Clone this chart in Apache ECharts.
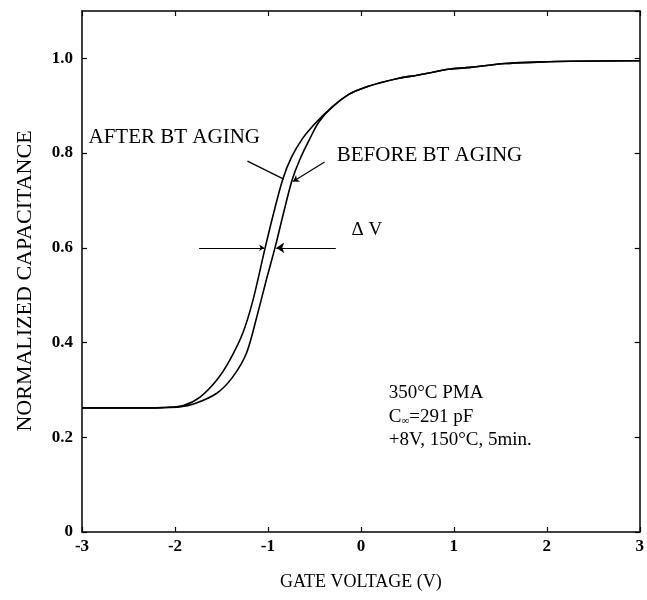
<!DOCTYPE html>
<html>
<head>
<meta charset="utf-8">
<script src="https://cdn.jsdelivr.net/npm/echarts@6/dist/echarts.min.js"></script>
<style>
html,body{margin:0;padding:0;background:#fff;}
#c{width:647px;height:600px;}
</style>
</head>
<body>
<div id="c"></div>
<script>
// Gate voltage (V) and normalized capacitance
const afterX = [-3, -2.3, -2.1, -1.91, -1.73, -1.55, -1.41, -1.27, -1.16, -1.03, -0.93, -0.84, -0.75, -0.63, -0.48, -0.31, -0.13, 0.05, 0.22, 0.41, 0.59, 0.76, 0.94, 1.18, 1.55, 1.9, 2.25, 3.0];
const afterY = [0.262, 0.262, 0.263, 0.267, 0.285, 0.321, 0.363, 0.420, 0.490, 0.600, 0.680, 0.745, 0.790, 0.830, 0.865, 0.897, 0.924, 0.939, 0.949, 0.958, 0.964, 0.970, 0.977, 0.981, 0.989, 0.992, 0.994, 0.995];
const beforeX = [-3, -2.3, -2.1, -1.95, -1.80, -1.55, -1.38, -1.23, -1.12, -1.02, -0.92, -0.83, -0.74, -0.66, -0.55, -0.45, -0.31, -0.13, 0.05, 0.22, 0.41, 0.59, 0.76, 0.94, 1.18, 1.55, 1.9, 2.25, 3.0];
const beforeY = [0.262, 0.262, 0.263, 0.264, 0.270, 0.293, 0.327, 0.378, 0.454, 0.530, 0.603, 0.675, 0.743, 0.785, 0.830, 0.866, 0.897, 0.924, 0.939, 0.949, 0.958, 0.964, 0.970, 0.977, 0.981, 0.989, 0.992, 0.994, 0.995];

const xTicks = [-3, -2, -1, 0, 1, 2, 3];
const yTicks = [0, 0.2, 0.4, 0.6, 0.8, 1.0];

// annotation anchors in data units
const afterLeader = [[-1.22, 0.783], [-0.83, 0.745]];
const beforeLeader = [[-0.39, 0.781], [-0.73, 0.740]];
const dvLeft = [[-1.74, 0.6], [-1.04, 0.6]];
const dvRight = [[-0.27, 0.6], [-0.91, 0.6]];
const afterLabelPos = [-2.93, 0.833];
const beforeLabelPos = [-0.26, 0.795];
const dvLabelPos = [-0.10, 0.637];
const noteLines = ['350°C PMA', 'C{s|∞}=291 pF', '+8V, 150°C, 5min.'];
const notePos = [[0.30, 0.293], [0.30, 0.243], [0.30, 0.194]];

const toPairs = (xs, ys) => xs.map((x, i) => [x, ys[i]]);
const serif = '"Liberation Serif", "DejaVu Serif", serif';

const chart = echarts.init(document.getElementById('c'), null, {renderer: 'canvas'});
const axisCommon = {
  type: 'value',
  axisLine: {show: true, onZero: false, lineStyle: {color: '#000', width: 1.5}},
  axisTick: {show: true, inside: true, length: 5, lineStyle: {color: '#000', width: 1.2}},
  splitLine: {show: false}
};
const option = {
  backgroundColor: '#fff',
  animation: false,
  grid: {left: 82, right: 3, top: 11, bottom: 68, containLabel: false},
  xAxis: [
    Object.assign({}, axisCommon, {
      min: -3, max: 3, interval: 1, position: 'bottom',
      axisLabel: {show: true, margin: 6, color: '#000', fontFamily: serif, fontSize: 17, fontWeight: 'bold',
        formatter: v => xTicks.includes(Math.round(v)) ? String(Math.round(v)) : ''}
    }),
    Object.assign({}, axisCommon, {
      min: -3, max: 3, interval: 1, position: 'top',
      axisLabel: {show: false}
    })
  ],
  yAxis: [
    Object.assign({}, axisCommon, {
      min: 0, max: 1.1, interval: 0.2, position: 'left',
      axisLabel: {show: true, margin: 9, color: '#000', fontFamily: serif, fontSize: 17, fontWeight: 'bold',
        showMaxLabel: false,
        formatter: v => {
          const t = yTicks.find(k => Math.abs(k - v) < 1e-6);
          if (t === undefined) return '';
          return t === 0 ? '0' : t.toFixed(1);
        }}
    }),
    Object.assign({}, axisCommon, {
      min: 0, max: 1.1, interval: 0.2, position: 'right',
      axisLabel: {show: false}
    })
  ],
  series: [
    {
      name: 'AFTER BT AGING', type: 'line', data: toPairs(afterX, afterY),
      smooth: 0.3, showSymbol: false, symbol: 'none',
      lineStyle: {color: '#000', width: 1.6}, silent: true
    },
    {
      name: 'BEFORE BT AGING', type: 'line', data: toPairs(beforeX, beforeY),
      smooth: 0.3, showSymbol: false, symbol: 'none',
      lineStyle: {color: '#000', width: 1.6}, silent: true
    },
    {
      type: 'lines', coordinateSystem: 'cartesian2d', silent: true,
      lineStyle: {color: '#000', width: 1.2, opacity: 1},
      data: [
        {coords: afterLeader, symbol: ['none', 'none']},
        {coords: beforeLeader, symbol: ['none', 'arrow'], symbolSize: 6},
        {coords: dvLeft, symbol: ['none', 'arrow'], symbolSize: 5},
        {coords: dvRight, symbol: ['none', 'arrow'], symbolSize: 8}
      ]
    }
  ]
};
chart.setOption(option);

function px(p) { return chart.convertToPixel({xAxisIndex: 0, yAxisIndex: 0}, p); }
const graphics = [];
const a = px(afterLabelPos);
graphics.push({type: 'text', x: a[0], y: a[1], style: {text: 'AFTER BT AGING', font: '21px ' + serif, fill: '#000', verticalAlign: 'middle', align: 'left'}});
const b = px(beforeLabelPos);
graphics.push({type: 'text', x: b[0], y: b[1], style: {text: 'BEFORE BT AGING', font: '21px ' + serif, fill: '#000', verticalAlign: 'middle', align: 'left'}});
const d = px(dvLabelPos);
graphics.push({type: 'text', x: d[0], y: d[1], style: {text: 'Δ V', font: '19px ' + serif, fill: '#000', verticalAlign: 'middle', align: 'left'}});
noteLines.forEach((t, i) => {
  const p = px(notePos[i]);
  graphics.push({type: 'text', x: p[0], y: p[1], style: {
    text: t, fill: '#000', fontFamily: serif, fontSize: 19, verticalAlign: 'middle', align: 'left',
    rich: {s: {fontSize: 11, fontFamily: serif, fill: '#000', padding: [8, 0, 0, 0]}}
  }});
});
// axis titles
const gx = px([0, 0]);
graphics.push({type: 'text', x: gx[0], y: 582, style: {text: 'GATE VOLTAGE (V)', font: '18px ' + serif, fill: '#000', align: 'center', verticalAlign: 'middle'}});
const gy = px([-3, 0.53]);
graphics.push({type: 'text', x: 25, y: gy[1], rotation: Math.PI / 2, style: {text: 'NORMALIZED CAPACITANCE', font: '22px ' + serif, fill: '#000', align: 'center', verticalAlign: 'middle'}});
chart.setOption({graphic: graphics});
</script>
</body>
</html>
